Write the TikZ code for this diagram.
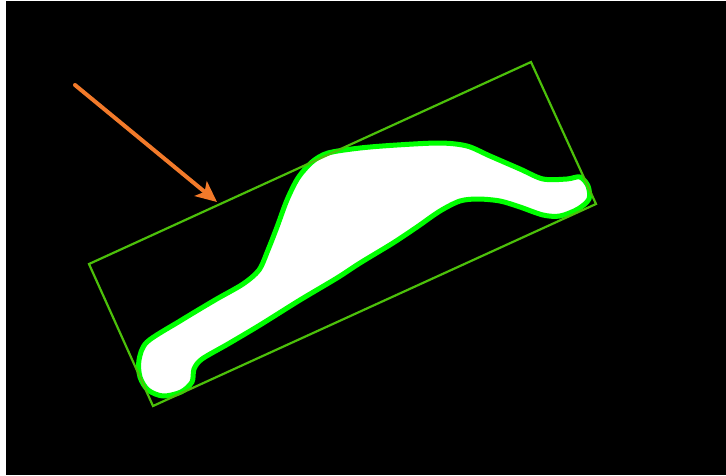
\documentclass[tikz,border=0pt]{standalone}
\usetikzlibrary{arrows.meta}
\definecolor{boxgreen}{HTML}{4CC00A}
\definecolor{blobgreen}{HTML}{00FF00}
\definecolor{arroworange}{HTML}{F27A2A}
\tikzset{
  boxline/.style={draw=boxgreen, line width=2.2pt, line join=miter},
  blob/.style={draw=blobgreen, fill=white, line width=5pt, line join=round},
  pointer/.style={draw=arroworange, line width=4pt, line cap=round, -{Stealth[length=21pt,width=19pt,inset=5pt]}}
}
\begin{document}
\begin{tikzpicture}[x=1pt,y=-1pt]
\useasboundingbox (0,0) rectangle (726,475);
\fill[white] (0,0) rectangle (726,475);
\fill[black] (6,1) rectangle (726,475);
% blob
\draw[blob] plot[smooth cycle, tension=0.5] coordinates {
 (147,342) (180,321) (215,300) (243,284) (259,270) (268,250) (277,227)
 (287,200) (298,178) (312,162) (328,153) (360,148) (397,145) (440,143)
 (467,146) (490,156) (520,169) (543,179) (567,179) (580,177) (588,186)
 (589,199) (578,209) (560,216) (543,215) (520,207) (500,201) (478,199)
 (460,201) (440,211) (417,227) (393,243) (360,263) (337,278) (300,300)
 (260,325) (228,344) (202,359) (194,369) (192,382) (181,392) (163,396)
 (148,390) (140,377) (139,360)
};
% rotated box
\coordinate (c1) at (89,264);
\coordinate (c2) at (531,62);
\coordinate (c3) at (596,204);
\coordinate (c4) at (153,406);
\draw[boxline] (c1) -- (c2) -- (c3) -- (c4) -- cycle;
% arrow
\coordinate (a0) at (75,85);
\coordinate (a1) at (217,202);
\draw[pointer] (a0) -- (a1);
\end{tikzpicture}
\end{document}
